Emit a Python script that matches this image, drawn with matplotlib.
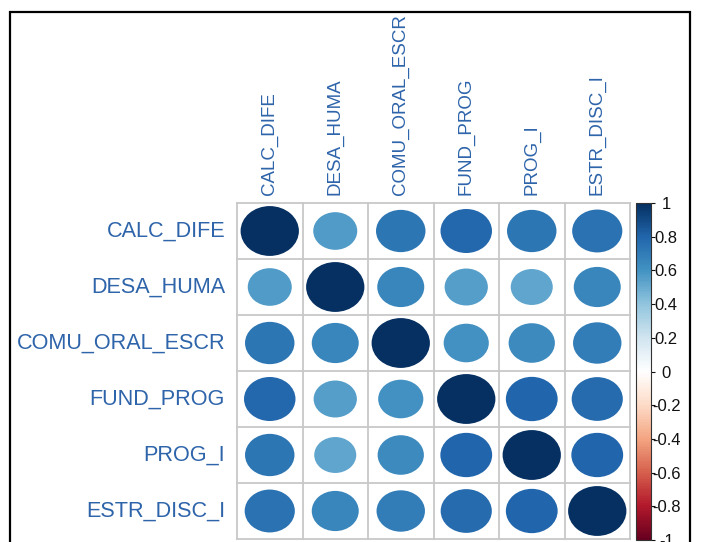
import numpy as np
import matplotlib
matplotlib.use("Agg")
import matplotlib.pyplot as plt
import matplotlib.patches as mpatches
import matplotlib.transforms as mtransforms
from matplotlib.colors import LinearSegmentedColormap, Normalize

plt.rcParams['font.family'] = ['Liberation Sans', 'DejaVu Sans']

names = ["CALC_DIFE", "DESA_HUMA", "COMU_ORAL_ESCR", "FUND_PROG", "PROG_I", "ESTR_DISC_I"]
corr = np.array([
    [1.00, 0.57, 0.72, 0.78, 0.72, 0.74],
    [0.57, 1.00, 0.65, 0.55, 0.52, 0.65],
    [0.72, 0.65, 1.00, 0.60, 0.63, 0.69],
    [0.78, 0.55, 0.60, 1.00, 0.79, 0.77],
    [0.72, 0.52, 0.63, 0.79, 1.00, 0.79],
    [0.74, 0.65, 0.69, 0.77, 0.79, 1.00],
])
cbar_ticks = [1, 0.8, 0.6, 0.4, 0.2, 0, -0.2, -0.4, -0.6, -0.8, -1]
cbar_labels = ["1", "0.8", "0.6", "0.4", "0.2", "0", "-0.2", "-0.4", "-0.6", "-0.8", "-1"]

# RdBu palette as used by corrplot
rdbu = ["#67001F", "#B2182B", "#D6604D", "#F4A582", "#FDDBC7", "#FFFFFF",
        "#D1E5F0", "#92C5DE", "#4393C3", "#2166AC", "#053061"]
cmap = LinearSegmentedColormap.from_list("rdbu", rdbu, N=200)
norm = Normalize(-1, 1)

label_col = "#2E64AA"
grid_col = "#C8C8C8"

W, H = 701, 542
fig = plt.figure(figsize=(W / 100, H / 100), dpi=100)

ax = fig.add_axes([237 / W, 1 - 539 / H, 393 / W, 336 / H])
n = len(names)
ax.set_xlim(0, n)
ax.set_ylim(n, 0)
ax.set_axis_off()

for i in range(n):
    for j in range(n):
        r = corr[i, j]
        d = 0.89 * np.sqrt(abs(r))
        ax.add_patch(mpatches.Ellipse((j + 0.5, i + 0.5), d, d,
                                      facecolor=cmap(norm(r)), edgecolor="none"))

for k in range(n + 1):
    ax.plot([k, k], [0, n], color=grid_col, lw=1.3, clip_on=False)
    ax.plot([0, n], [k, k], color=grid_col, lw=1.3, clip_on=False)

# row labels on the left
left_tr = mtransforms.offset_copy(ax.transData, fig=fig, x=-12, y=0, units="dots")
for i, name in enumerate(names):
    ax.text(0, i + 0.5, name, transform=left_tr, ha="right", va="center",
            fontsize=15.6, color=label_col)

# column labels on top
top_tr = mtransforms.offset_copy(ax.transData, fig=fig, x=0, y=8, units="dots")
for j, name in enumerate(names):
    ax.text(j + 0.5, 0, name, transform=top_tr, rotation=90, ha="center",
            va="bottom", fontsize=13.5, color=label_col)

# colour legend
cax = fig.add_axes([635.5 / W, 1 - 540 / H, 15.5 / W, 337 / H])
sm = plt.cm.ScalarMappable(norm=norm, cmap=cmap)
cb = fig.colorbar(sm, cax=cax, ticks=cbar_ticks)
cb.ax.set_yticklabels(cbar_labels)
cb.outline.set_edgecolor("#333333")
cb.outline.set_linewidth(0.8)
cb.ax.tick_params(length=3, width=0.8, pad=8, labelsize=12, colors="#111111")
for t in cb.ax.get_yticklabels():
    t.set_ha("center")

# outer frame
fig.patches.append(mpatches.Rectangle((10 / W, -0.05), 680 / W, 1.05 - 12 / H,
                                      transform=fig.transFigure, fill=False,
                                      edgecolor="black", lw=1.6))

fig.savefig("out.png", dpi=100)
